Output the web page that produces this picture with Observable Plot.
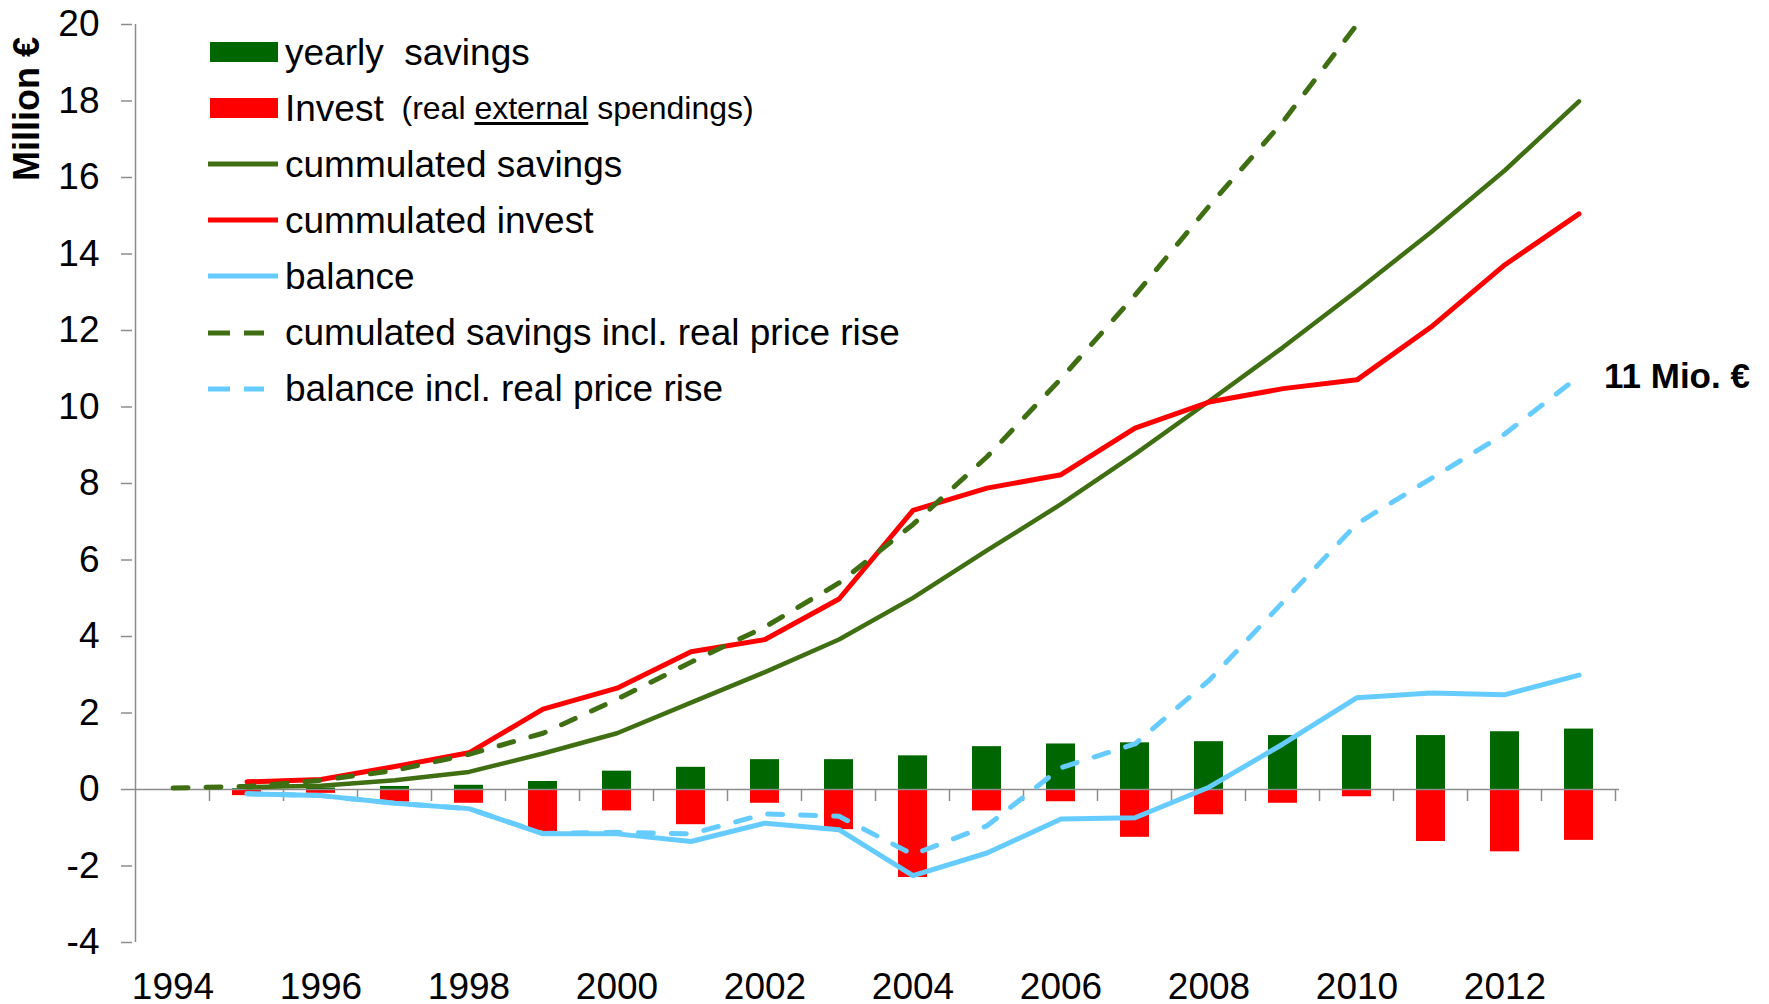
<!DOCTYPE html>
<html><head><meta charset="utf-8">
<script src="https://cdn.jsdelivr.net/npm/d3@7"></script>
<script src="https://cdn.jsdelivr.net/npm/@observablehq/plot@0.6"></script>
<style>
body{margin:0;background:#fff;font-family:"Liberation Sans",Arial,sans-serif;}
#wrap{position:relative;width:1769px;height:1004px;}
#legend{position:absolute;left:208px;top:24px;}
.row{display:flex;align-items:center;height:56.1px;font-size:37px;white-space:pre;color:#000;line-height:1;}
.row svg{margin-right:7px;flex:none;}
.small{font-size:32px;}
.u{text-decoration:underline;text-underline-offset:3px;}
#ytitle{position:absolute;left:27px;top:109px;transform:translate(-50%,-50%) rotate(-90deg);font-weight:bold;font-size:36px;white-space:nowrap;}
</style></head><body><div id="wrap"></div>
<script>
// ---- data ----
const years = [1994,1995,1996,1997,1998,1999,2000,2001,2002,2003,2004,2005,2006,2007,2008,2009,2010,2011,2012,2013];
const yearlySavings = [0,0.02,0.04,0.08,0.11,0.21,0.48,0.58,0.78,0.78,0.88,1.12,1.19,1.22,1.25,1.41,1.41,1.41,1.51,1.58];
const yearlyInvest = [0,-0.16,-0.1,-0.33,-0.36,-1.1,-0.56,-0.92,-0.36,-1.05,-2.3,-0.56,-0.32,-1.25,-0.66,-0.36,-0.19,-1.36,-1.63,-1.33];
const cumulatedSavings = [null,0.06,0.1,0.24,0.46,0.94,1.47,2.27,3.07,3.92,5.01,6.25,7.46,8.77,10.15,11.56,13.04,14.57,16.19,17.99];
const cumulatedInvest = [null,0.2,0.26,0.6,0.96,2.1,2.65,3.6,3.92,4.98,7.3,7.88,8.23,9.45,10.13,10.48,10.71,12.09,13.72,15.05];
const balance = [null,-0.11,-0.16,-0.36,-0.5,-1.16,-1.16,-1.36,-0.88,-1.05,-2.25,-1.66,-0.77,-0.74,0.06,1.19,2.4,2.52,2.48,2.99];
const cumulatedSavingsReal = [0.04,0.08,0.24,0.5,0.92,1.47,2.36,3.33,4.25,5.4,6.93,8.7,10.74,12.92,15.25,17.46,20.0,null,null,null];
const balanceReal = [null,-0.11,-0.16,-0.36,-0.5,-1.15,-1.12,-1.16,-0.64,-0.7,-1.7,-0.95,0.57,1.19,2.85,4.9,6.95,8.13,9.3,10.8];
const yTicks = [-4,-2,0,2,4,6,8,10,12,14,16,18,20];
const xTickLabels = [1994,1996,1998,2000,2002,2004,2006,2008,2010,2012];
const yTitle = "Million €";
const annotation = "11 Mio. €";
const legendLabels = ["yearly  savings","Invest","cummulated savings","cummulated invest","balance","cumulated savings incl. real price rise","balance incl. real price rise"];
const legendKinds = ["bar","bar","line","line","line","dash","dash"];
const legendColors = ["#006600","#ff0000","#3f6f12","#ff0000","#66ccff","#3f6f12","#66ccff"];

// ---- table ----
const rows = years.map((year,i)=>({year, savings:yearlySavings[i], invest:yearlyInvest[i],
  cumSav:cumulatedSavings[i], cumInv:cumulatedInvest[i], bal:balance[i],
  cumSavReal:cumulatedSavingsReal[i], balReal:balanceReal[i]}));

const AX = "#8c8c8c";
function axisLines(index, scales) {
  const x = scales.x, y = scales.y;
  const step = x.step(), bw = x.bandwidth();
  const g = d3.create("svg:g").attr("stroke", AX).attr("stroke-width", 1.5).attr("fill","none");
  const x0 = x(years[0]) + bw/2 - step/2;
  g.append("line").attr("x1",x0).attr("x2",x0).attr("y1",y(20)).attr("y2",y(-4));
  years.forEach(yr => {
    const xb = x(yr) + bw/2 + step/2;
    g.append("line").attr("x1",xb).attr("x2",xb).attr("y1",y(0)).attr("y2",y(0)+12);
  });
  return g.node();
}

const dash = "15,18";
const chart = Plot.plot({
  width:1769, height:1004,
  marginLeft:132, marginRight:150, marginTop:24, marginBottom:62,
  style:{fontFamily:'"Liberation Sans", Arial, sans-serif', background:"white", color:"black", overflow:"visible"},
  x:{type:"band", domain:years, paddingInner:0.61, paddingOuter:0.305, label:null},
  y:{domain:[-4,20], label:null},
  marks:[
    Plot.barY(rows, {x:"year", y:"savings", fill:"#006600"}),
    Plot.barY(rows, {x:"year", y:"invest", fill:"#ff0000"}),
    Plot.ruleY([0], {stroke:AX, strokeWidth:1.5}),
    axisLines,
    Plot.axisY({ticks:yTicks, tickSize:11, tickPadding:22, tickFormat:d=>String(d), fontSize:37, stroke:AX, strokeWidth:1.5, fill:"black", label:null}),
    Plot.axisX({ticks:xTickLabels, tickSize:0, tickPadding:30, tickFormat:d=>String(d), fontSize:37, fill:"black", label:null}),
    Plot.lineY(rows, {x:"year", y:"cumSav", stroke:"#3f6f12", strokeWidth:4.5}),
    Plot.lineY(rows, {x:"year", y:"cumInv", stroke:"#ff0000", strokeWidth:5}),
    Plot.lineY(rows, {x:"year", y:"bal", stroke:"#66ccff", strokeWidth:5}),
    Plot.lineY(rows, {x:"year", y:"cumSavReal", stroke:"#3f6f12", strokeWidth:5, strokeDasharray:dash, strokeLinecap:"round"}),
    Plot.lineY(rows, {x:"year", y:"balReal", stroke:"#66ccff", strokeWidth:5, strokeDasharray:dash, strokeLinecap:"round"}),
    Plot.text([rows[rows.length-1]], {x:"year", y:"balReal", text:()=>annotation, textAnchor:"start", dx:25, fontSize:35, fontWeight:"bold", fill:"black"})
  ]
});
const wrap = document.getElementById("wrap");
wrap.appendChild(chart);

// legend
const leg = document.createElement("div"); leg.id = "legend";
legendLabels.forEach((lab,i)=>{
  const row = document.createElement("div"); row.className = "row";
  const ns = "http://www.w3.org/2000/svg";
  const s = document.createElementNS(ns,"svg"); s.setAttribute("width",70); s.setAttribute("height",24);
  if (legendKinds[i]==="bar") {
    const r = document.createElementNS(ns,"rect");
    r.setAttribute("x",2); r.setAttribute("y",2); r.setAttribute("width",68); r.setAttribute("height",20);
    r.setAttribute("fill",legendColors[i]); s.appendChild(r);
  } else {
    const l = document.createElementNS(ns,"line");
    l.setAttribute("x1",0); l.setAttribute("x2", legendKinds[i]==="dash"?56:70); l.setAttribute("y1",12); l.setAttribute("y2",12);
    l.setAttribute("stroke",legendColors[i]); l.setAttribute("stroke-width",5);
    if (legendKinds[i]==="dash") { l.setAttribute("stroke-dasharray","22,14"); }
    s.appendChild(l);
  }
  row.appendChild(s);
  const t = document.createElement("span"); t.textContent = lab; row.appendChild(t);
  if (i===1) {
    const sm = document.createElement("span"); sm.className="small";
    sm.innerHTML = '  (real <span class="u">external</span> spendings)';
    row.appendChild(sm);
  }
  leg.appendChild(row);
});
wrap.appendChild(leg);
const yt = document.createElement("div"); yt.id="ytitle"; yt.textContent = yTitle; wrap.appendChild(yt);
</script>
</body></html>
